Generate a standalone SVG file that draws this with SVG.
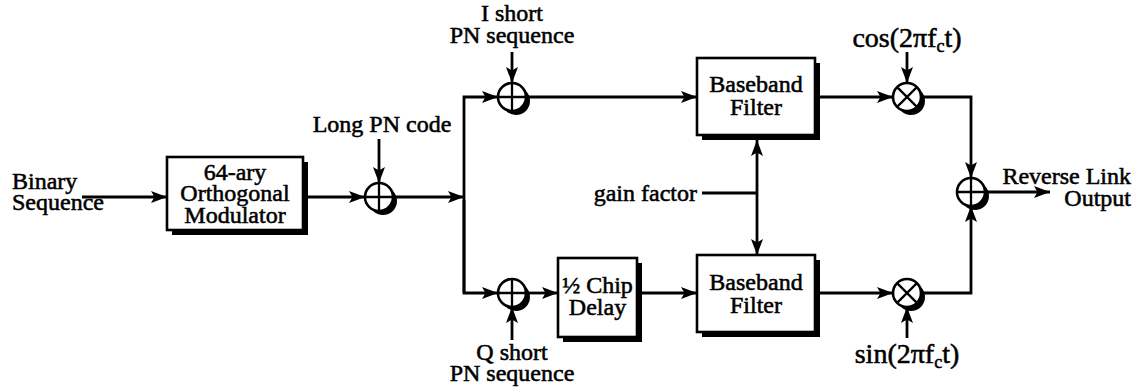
<svg xmlns="http://www.w3.org/2000/svg" width="1138" height="391" viewBox="0 0 1138 391">
<style>
.t{font-size:24px;fill:#000;stroke:#000;stroke-width:0.55}
.m{text-anchor:middle}
.e{text-anchor:end}
.big{font-size:28px}
.ln{fill:none;stroke:#000;stroke-width:2.8}
.a{marker-end:url(#ah)}
.box{fill:#fff;stroke:#000;stroke-width:2.6}
.sh{fill:#000}
.ring{fill:#fff;stroke:#000;stroke-width:2.6}
.x{stroke:#000;stroke-width:2.3}
</style>
<defs>
<marker id="ah" viewBox="0 0 16 12" refX="16" refY="6" markerWidth="16" markerHeight="12" orient="auto-start-reverse" markerUnits="userSpaceOnUse">
<path d="M0,0 L16,6 L0,12 L3.5,6 z" fill="#000"/>
</marker>
</defs>
<rect width="1138" height="391" fill="#fff"/>

<g id="connectors">
<path class="ln a" d="M82,197 H167"/>
<path class="ln a" d="M303,197 H365"/>
<path class="ln a" d="M379,139 V183"/>
<path class="ln a" d="M393,197 H464"/>
<path class="ln a" d="M464,293 V97 H498"/>
<path class="ln a" d="M464,200 V293 H498"/>
<path class="ln a" d="M512,52 V83"/>
<path class="ln a" d="M512,340 V307"/>
<path class="ln a" d="M526,97 H697"/>
<path class="ln a" d="M526,293 H558"/>
<path class="ln a" d="M637,293 H697"/>
<path class="ln" d="M702,193 H757"/>
<path class="ln" d="M757,140 V255" marker-start="url(#ah)" marker-end="url(#ah)"/>
<path class="ln a" d="M815,97 H893"/>
<path class="ln a" d="M815,293 H893"/>
<path class="ln a" d="M907,52 V83"/>
<path class="ln a" d="M907,338 V307"/>
<path class="ln a" d="M921,97 H971 V178"/>
<path class="ln a" d="M921,293 H971 V206"/>
<path class="ln a" d="M985,192 H1050"/>
</g>

<g font-family="'Liberation Serif', 'Times New Roman', Times, 'DejaVu Serif', serif">
<g id="binary-input">
<text class="t" x="12" y="189">Binary</text>
<text class="t" x="12" y="210">Sequence</text>
</g>

<g id="modulator">
<rect class="sh" x="172" y="162" width="136" height="73"/>
<rect class="box" x="167" y="157" width="136" height="73"/>
<text class="t m" x="235" y="179.5">64-ary</text>
<text class="t m" x="235" y="201">Orthogonal</text>
<text class="t m" x="235" y="222.5">Modulator</text>
</g>

<g id="long-pn-sum">
<circle class="sh" cx="383" cy="201" r="14"/>
<circle class="ring" cx="379" cy="197" r="14"/>
<path class="x" d="M365,197 H393 M379,183 V211"/>
<text class="t m" x="382" y="132">Long PN code</text>
</g>

<g id="i-sum">
<circle class="sh" cx="516" cy="101" r="14"/>
<circle class="ring" cx="512" cy="97" r="14"/>
<path class="x" d="M498,97 H526 M512,83 V111"/>
<text class="t m" x="512" y="21">I short</text>
<text class="t m" x="512" y="43">PN sequence</text>
</g>

<g id="q-sum">
<circle class="sh" cx="516" cy="297" r="14"/>
<circle class="ring" cx="512" cy="293" r="14"/>
<path class="x" d="M498,293 H526 M512,279 V307"/>
<text class="t m" x="512" y="360">Q short</text>
<text class="t m" x="512" y="381">PN sequence</text>
</g>

<g id="half-chip-delay">
<rect class="sh" x="563" y="263" width="79" height="79"/>
<rect class="box" x="558" y="258" width="79" height="79"/>
<text class="t m" x="597.5" y="293">½ Chip</text>
<text class="t m" x="597.5" y="315">Delay</text>
</g>

<g id="baseband-filter-i">
<rect class="sh" x="702" y="63" width="118" height="77"/>
<rect class="box" x="697" y="58" width="118" height="77"/>
<text class="t m" x="756" y="92">Baseband</text>
<text class="t m" x="756" y="115">Filter</text>
</g>

<g id="baseband-filter-q">
<rect class="sh" x="702" y="260" width="118" height="77"/>
<rect class="box" x="697" y="255" width="118" height="77"/>
<text class="t m" x="756" y="290">Baseband</text>
<text class="t m" x="756" y="313">Filter</text>
</g>

<g id="gain-factor">
<text class="t e" x="697" y="201">gain factor</text>
</g>

<g id="cos-mixer">
<circle class="sh" cx="911" cy="101" r="14"/>
<circle class="ring" cx="907" cy="97" r="14"/>
<path class="x" d="M897.1,87.1 L916.9,106.9 M916.9,87.1 L897.1,106.9"/>
<text class="t big m" x="907" y="47">cos(2πf<tspan font-size="18" dy="5">c</tspan><tspan dy="-5">t)</tspan></text>
</g>

<g id="sin-mixer">
<circle class="sh" cx="911" cy="297" r="14"/>
<circle class="ring" cx="907" cy="293" r="14"/>
<path class="x" d="M897.1,283.1 L916.9,302.9 M916.9,283.1 L897.1,302.9"/>
<text class="t big m" x="907" y="363">sin(2πf<tspan font-size="18" dy="5">c</tspan><tspan dy="-5">t)</tspan></text>
</g>

<g id="output-sum">
<circle class="sh" cx="975" cy="196" r="14"/>
<circle class="ring" cx="971" cy="192" r="14"/>
<path class="x" d="M957,192 H985 M971,178 V206"/>
<text class="t e" x="1131" y="184">Reverse Link</text>
<text class="t e" x="1131" y="206">Output</text>
</g>
</g>
</svg>
